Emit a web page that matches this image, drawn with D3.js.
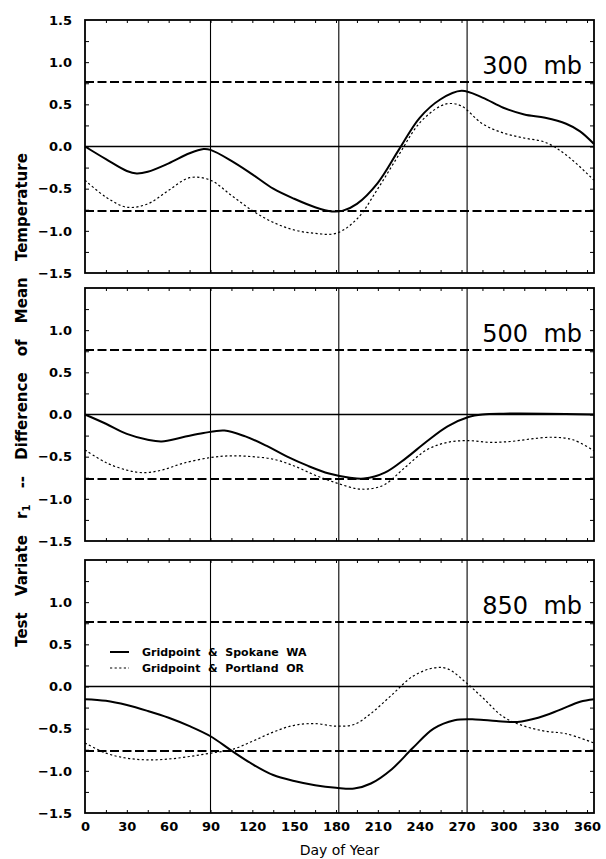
<!DOCTYPE html>
<html>
<head>
<meta charset="utf-8">
<script src="https://cdn.jsdelivr.net/npm/d3@7"></script>
<style>
  body { margin: 0; background: #fff; }
  svg { display: block; font-family: "DejaVu Sans", sans-serif; }
</style>
</head>
<body>
<svg id="chart" width="606" height="859"></svg>
<script>
// values (day of year, test variate)
const days300 = [0, 15, 30, 37, 45, 60, 75, 85, 90, 105, 120, 135, 150, 165, 177, 185, 195, 210, 225, 240, 255, 270, 285, 300, 315, 330, 345, 355, 365];
const spokane300 = [0, -0.15, -0.29, -0.32, -0.30, -0.20, -0.08, -0.03, -0.04, -0.17, -0.33, -0.50, -0.62, -0.72, -0.77, -0.76, -0.68, -0.43, -0.04, 0.34, 0.56, 0.66, 0.58, 0.46, 0.38, 0.34, 0.27, 0.18, 0.03];
const daysP300 = [0, 15, 30, 45, 60, 75, 90, 105, 120, 135, 150, 165, 180, 195, 210, 225, 240, 255, 262, 270, 285, 300, 315, 330, 345, 365];
const portland300 = [-0.40, -0.60, -0.72, -0.68, -0.52, -0.37, -0.40, -0.58, -0.76, -0.90, -0.99, -1.03, -1.03, -0.86, -0.50, -0.10, 0.28, 0.48, 0.51, 0.48, 0.27, 0.16, 0.10, 0.05, -0.10, -0.40];

const days500 = [0, 15, 30, 45, 55, 70, 85, 100, 115, 130, 145, 160, 175, 190, 200, 215, 230, 245, 260, 275, 285, 300, 330, 365];
const spokane500 = [0, -0.11, -0.23, -0.30, -0.32, -0.27, -0.22, -0.19, -0.26, -0.37, -0.50, -0.61, -0.70, -0.75, -0.76, -0.69, -0.52, -0.32, -0.14, -0.03, 0, 0.01, 0.01, 0];
const daysP500 = [0, 15, 30, 42, 55, 70, 90, 105, 120, 135, 150, 165, 180, 195, 205, 215, 230, 245, 260, 275, 290, 305, 320, 335, 350, 365];
const portland500 = [-0.42, -0.57, -0.66, -0.69, -0.66, -0.58, -0.51, -0.49, -0.50, -0.53, -0.61, -0.72, -0.81, -0.88, -0.88, -0.83, -0.62, -0.42, -0.33, -0.31, -0.33, -0.32, -0.29, -0.27, -0.30, -0.43];

const days850 = [0, 15, 30, 45, 60, 75, 90, 105, 120, 135, 150, 165, 180, 193, 205, 220, 235, 250, 265, 280, 295, 310, 325, 340, 355, 365];
const spokane850 = [-0.15, -0.17, -0.22, -0.29, -0.37, -0.47, -0.59, -0.76, -0.92, -1.05, -1.12, -1.17, -1.20, -1.21, -1.15, -0.98, -0.73, -0.50, -0.40, -0.39, -0.41, -0.42, -0.37, -0.28, -0.18, -0.15];
const daysP850 = [0, 15, 30, 45, 60, 75, 90, 105, 120, 135, 150, 165, 180, 193, 205, 220, 235, 250, 260, 273, 285, 300, 315, 330, 345, 365];
const portland850 = [-0.67, -0.79, -0.85, -0.87, -0.86, -0.83, -0.79, -0.75, -0.65, -0.54, -0.46, -0.44, -0.47, -0.45, -0.32, -0.10, 0.12, 0.22, 0.21, 0.05, -0.13, -0.36, -0.47, -0.53, -0.56, -0.67];

const levels = ["300  mb", "500  mb", "850  mb"];
const xTicks = [0, 30, 60, 90, 120, 150, 180, 210, 240, 270, 300, 330, 360];
const quarterDays = [90, 182, 274];
const critical = [0.765, -0.765];
const legendLabels = ["Gridpoint  &  Spokane  WA", "Gridpoint  &  Portland  OR"];

const panels = [
  { label: levels[0], sd: days300, s: spokane300, pd: daysP300, p: portland300, top: 20, yTicks: [1.5, 1.0, 0.5, 0.0, -0.5, -1.0, -1.5] },
  { label: levels[1], sd: days500, s: spokane500, pd: daysP500, p: portland500, top: 288, yTicks: [1.0, 0.5, 0.0, -0.5, -1.0, -1.5] },
  { label: levels[2], sd: days850, s: spokane850, pd: daysP850, p: portland850, top: 560, yTicks: [1.0, 0.5, 0.0, -0.5, -1.0, -1.5], legend: true }
];

const left = 85, right = 594, panelH = 253;
const svg = d3.select("#chart");
const x = d3.scaleLinear().domain([0, 365]).range([left, right]);
const fmt = d => d3.format(".1f")(d).replace("-", "\u2212");

panels.forEach(function(pn) {
  const y = d3.scaleLinear().domain([-1.5, 1.5]).range([pn.top + panelH, pn.top]);
  const g = svg.append("g");

  // inner minor ticks on all four sides
  g.append("g").attr("transform", `translate(0,${pn.top + panelH})`)
    .call(d3.axisTop(x).tickValues(d3.range(15, 365, 15)).tickSize(3).tickFormat(""))
    .call(a => a.select(".domain").remove());
  g.append("g").attr("transform", `translate(0,${pn.top})`)
    .call(d3.axisBottom(x).tickValues(d3.range(15, 365, 15)).tickSize(3).tickFormat(""))
    .call(a => a.select(".domain").remove());
  g.append("g").attr("transform", `translate(${left},0)`)
    .call(d3.axisRight(y).tickValues(d3.range(-1.25, 1.5, 0.25)).tickSize(4).tickFormat(""))
    .call(a => a.select(".domain").remove());
  g.append("g").attr("transform", `translate(${right},0)`)
    .call(d3.axisLeft(y).tickValues(d3.range(-1.25, 1.5, 0.25)).tickSize(4).tickFormat(""))
    .call(a => a.select(".domain").remove());

  // y tick labels
  g.append("g").attr("transform", `translate(${left},0)`)
    .call(d3.axisLeft(y).tickValues(pn.yTicks).tickSize(0).tickPadding(13).tickFormat(fmt))
    .call(a => a.select(".domain").remove())
    .selectAll("text").attr("font-size", 13).attr("font-weight", "bold").attr("font-family", "DejaVu Sans");

  // quarter lines, zero line, critical values
  g.selectAll(".q").data(quarterDays).join("line")
    .attr("x1", d => x(d)).attr("x2", d => x(d))
    .attr("y1", pn.top).attr("y2", pn.top + panelH)
    .attr("stroke", "#000").attr("stroke-width", 1.1);
  g.append("line").attr("x1", left).attr("x2", right)
    .attr("y1", y(0)).attr("y2", y(0))
    .attr("stroke", "#000").attr("stroke-width", 1.3);
  g.selectAll(".c").data(critical).join("line")
    .attr("x1", left).attr("x2", right)
    .attr("y1", d => y(d)).attr("y2", d => y(d))
    .attr("stroke", "#000").attr("stroke-width", 1.8).attr("stroke-dasharray", "9,3.5");

  const line = d3.line().x(d => x(d[0])).y(d => y(d[1])).curve(d3.curveCatmullRom);
  g.append("path").datum(d3.zip(pn.pd, pn.p)).attr("d", line)
    .attr("fill", "none").attr("stroke", "#000").attr("stroke-width", 1.2).attr("stroke-dasharray", "2.2,2.4");
  g.append("path").datum(d3.zip(pn.sd, pn.s)).attr("d", line)
    .attr("fill", "none").attr("stroke", "#000").attr("stroke-width", 2);

  // frame
  g.append("rect").attr("x", left).attr("y", pn.top)
    .attr("width", right - left).attr("height", panelH)
    .attr("fill", "none").attr("stroke", "#000").attr("stroke-width", 1.8);

  // level label
  g.append("text").attr("x", 582).attr("y", pn.top + 54)
    .attr("text-anchor", "end").attr("font-size", 24)
    .style("white-space", "pre").text(pn.label);

  if (pn.legend) {
    const ly = [652, 668];
    g.selectAll(".lg").data(legendLabels).join("line")
      .attr("x1", 110).attr("x2", 129)
      .attr("y1", (d, i) => ly[i]).attr("y2", (d, i) => ly[i])
      .attr("stroke", "#000")
      .attr("stroke-width", (d, i) => i ? 1.2 : 2)
      .attr("stroke-dasharray", (d, i) => i ? "2.2,2.4" : null);
    g.selectAll(".lt").data(legendLabels).join("text")
      .attr("x", 142).attr("y", (d, i) => ly[i] + 4)
      .attr("font-size", 11).attr("font-weight", "bold")
      .style("white-space", "pre").text(d => d);
  }

  if (pn.top === 560) {
    g.append("g").attr("transform", `translate(0,${pn.top + panelH})`)
      .call(d3.axisBottom(x).tickValues(xTicks).tickSize(0).tickPadding(9).tickFormat(d3.format("d")))
      .call(a => a.select(".domain").remove())
      .selectAll("text").attr("font-size", 13).attr("font-weight", "bold").attr("font-family", "DejaVu Sans");
  }
});

svg.append("text").attr("x", (left + right) / 2).attr("y", 855)
  .attr("text-anchor", "middle").attr("font-size", 14)
  .text("Day of Year");

// y title runs up the whole figure
const yt = svg.append("text")
  .attr("transform", "translate(27,400) rotate(-90)")
  .attr("text-anchor", "middle").attr("font-size", 15).attr("font-weight", "bold")
  .attr("word-spacing", 11);
yt.append("tspan").text("Test Variate r");
yt.append("tspan").attr("font-size", 10).attr("dy", 3).text("1");
yt.append("tspan").attr("dy", -3).text(" -- Difference of Mean Temperature");
</script>
</body>
</html>
